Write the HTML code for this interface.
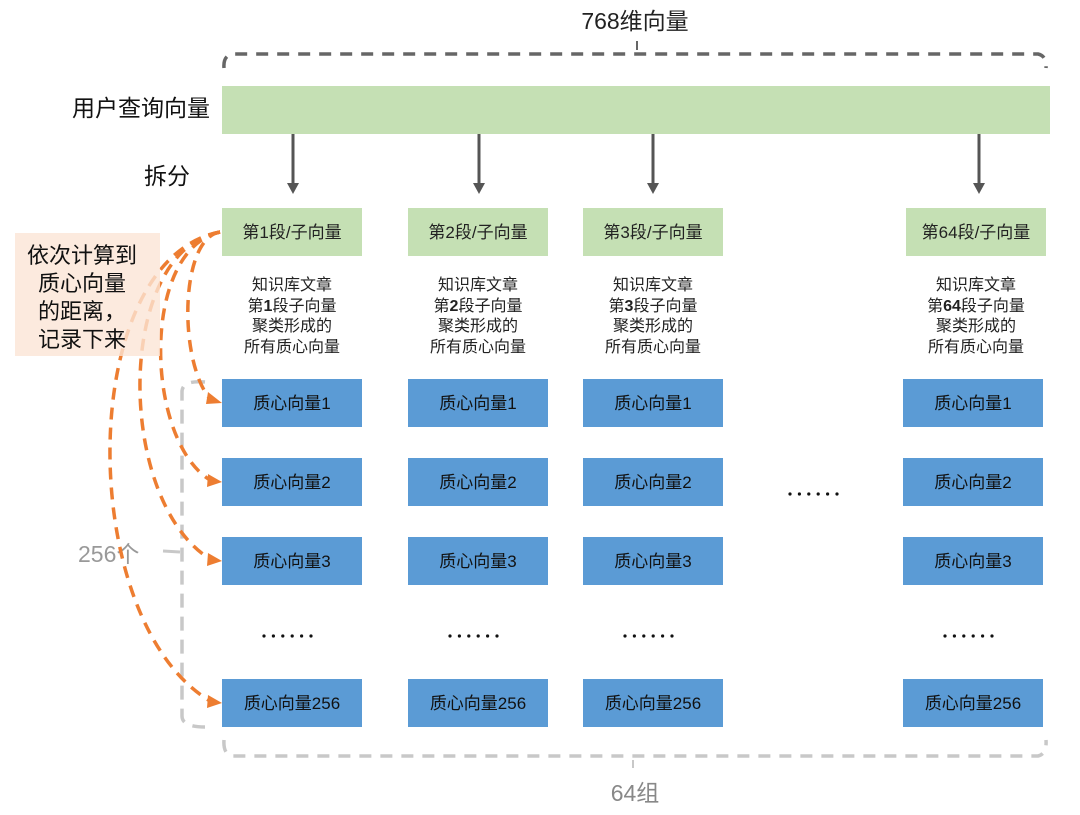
<!DOCTYPE html>
<html><head><meta charset="utf-8"><style>
html,body{margin:0;padding:0;background:#fff;}
svg{display:block;font-family:"Liberation Sans","Noto Sans CJK SC",sans-serif;}
</style></head><body>
<svg width="1080" height="815" viewBox="0 0 1080 815" xmlns="http://www.w3.org/2000/svg">
<defs>
<g id="dots"><circle cx="0" cy="0" r="1.6"/><circle cx="9.4" cy="0" r="1.6"/><circle cx="18.8" cy="0" r="1.6"/><circle cx="28.2" cy="0" r="1.6"/><circle cx="37.6" cy="0" r="1.6"/><circle cx="47" cy="0" r="1.6"/></g>
</defs>
<!-- top title & brace -->
<text x="635" y="29" font-size="23" text-anchor="middle" fill="#222">768维向量</text>
<path d="M224,68 Q223,56 232,54 L1038,54 Q1047,56 1046,68" fill="none" stroke="#666" stroke-width="3.5" stroke-dasharray="12,9"/>
<line x1="637" y1="41" x2="637" y2="50" stroke="#666" stroke-width="2"/>
<!-- user query -->
<text x="210" y="116" font-size="23" text-anchor="end" fill="#111">用户查询向量</text>
<rect x="222" y="86" width="828" height="48" fill="#c5e0b4"/>
<text x="190" y="184" font-size="23" text-anchor="end" fill="#111">拆分</text>
<!-- arrows -->
<g stroke="#555" stroke-width="3" fill="#555">
<line x1="293" y1="134" x2="293" y2="184"/><polygon points="287,183 299,183 293,194" stroke="none"/>
<line x1="479" y1="134" x2="479" y2="184"/><polygon points="473,183 485,183 479,194" stroke="none"/>
<line x1="653" y1="134" x2="653" y2="184"/><polygon points="647,183 659,183 653,194" stroke="none"/>
<line x1="979" y1="134" x2="979" y2="184"/><polygon points="973,183 985,183 979,194" stroke="none"/>
</g>
<!-- segment boxes -->
<g font-size="17" text-anchor="middle" fill="#222">
<rect x="222" y="208" width="140" height="48" fill="#c5e0b4"/><text x="292" y="238">第1段/子向量</text>
<rect x="408" y="208" width="140" height="48" fill="#c5e0b4"/><text x="478" y="238">第2段/子向量</text>
<rect x="583" y="208" width="140" height="48" fill="#c5e0b4"/><text x="653" y="238">第3段/子向量</text>
<rect x="906" y="208" width="140" height="48" fill="#c5e0b4"/><text x="976" y="238">第64段/子向量</text>
</g>
<!-- descriptions -->
<g font-size="16" text-anchor="middle" fill="#222">
<text x="292" y="290">知识库文章</text><text x="292" y="311">第<tspan font-weight="bold">1</tspan>段子向量</text><text x="292" y="331">聚类形成的</text><text x="292" y="352">所有质心向量</text>
<text x="478" y="290">知识库文章</text><text x="478" y="311">第<tspan font-weight="bold">2</tspan>段子向量</text><text x="478" y="331">聚类形成的</text><text x="478" y="352">所有质心向量</text>
<text x="653" y="290">知识库文章</text><text x="653" y="311">第<tspan font-weight="bold">3</tspan>段子向量</text><text x="653" y="331">聚类形成的</text><text x="653" y="352">所有质心向量</text>
<text x="976" y="290">知识库文章</text><text x="976" y="311">第<tspan font-weight="bold">64</tspan>段子向量</text><text x="976" y="331">聚类形成的</text><text x="976" y="352">所有质心向量</text>
</g>
<!-- blue boxes -->
<g fill="#5b9bd5">
<rect x="222" y="379" width="140" height="48"/><rect x="408" y="379" width="140" height="48"/><rect x="583" y="379" width="140" height="48"/><rect x="903" y="379" width="140" height="48"/>
<rect x="222" y="458" width="140" height="48"/><rect x="408" y="458" width="140" height="48"/><rect x="583" y="458" width="140" height="48"/><rect x="903" y="458" width="140" height="48"/>
<rect x="222" y="537" width="140" height="48"/><rect x="408" y="537" width="140" height="48"/><rect x="583" y="537" width="140" height="48"/><rect x="903" y="537" width="140" height="48"/>
<rect x="222" y="679" width="140" height="48"/><rect x="408" y="679" width="140" height="48"/><rect x="583" y="679" width="140" height="48"/><rect x="903" y="679" width="140" height="48"/>
</g>
<g font-size="17" text-anchor="middle" fill="#111">
<text x="292" y="409">质心向量1</text><text x="478" y="409">质心向量1</text><text x="653" y="409">质心向量1</text><text x="973" y="409">质心向量1</text>
<text x="292" y="488">质心向量2</text><text x="478" y="488">质心向量2</text><text x="653" y="488">质心向量2</text><text x="973" y="488">质心向量2</text>
<text x="292" y="567">质心向量3</text><text x="478" y="567">质心向量3</text><text x="653" y="567">质心向量3</text><text x="973" y="567">质心向量3</text>
<text x="292" y="709">质心向量256</text><text x="478" y="709">质心向量256</text><text x="653" y="709">质心向量256</text><text x="973" y="709">质心向量256</text>
</g>
<g fill="#111">
<use href="#dots" x="264" y="636"/>
<use href="#dots" x="450" y="636"/>
<use href="#dots" x="625" y="636"/>
<use href="#dots" x="945" y="636"/>
<use href="#dots" x="790" y="494"/>
</g>
<!-- left gray bracket -->
<path d="M205,382 Q182,380 182,392 L182,716 Q182,727 205,727" fill="none" stroke="#c8c8c8" stroke-width="3.5" stroke-dasharray="14,9"/>
<line x1="163" y1="551" x2="180" y2="552" stroke="#c8c8c8" stroke-width="3"/>
<text x="78" y="562" font-size="23" fill="#999">256个</text>
<!-- bottom brace -->
<path d="M224,740 Q223,754 232,756 L1038,756 Q1047,754 1046,740" fill="none" stroke="#c8c8c8" stroke-width="3.5" stroke-dasharray="12,9"/>
<line x1="633" y1="760" x2="633" y2="768" stroke="#c8c8c8" stroke-width="2"/>
<text x="635" y="801" font-size="23" text-anchor="middle" fill="#888">64组</text>
<!-- orange curves -->
<g fill="none" stroke="#ed7d31" stroke-width="3.5" stroke-dasharray="12,8">
<path d="M220,232 C180,238 178,360 210,399"/>
<path d="M220,232 C140,250 145,440 210,480"/>
<path d="M220,232 C115,250 115,500 210,559"/>
<path d="M220,232 C75,260 75,620 210,701"/>
</g>
<g fill="#ed7d31">
<polygon points="222,403 208,392 206,404"/>
<polygon points="222,482 208,474 207,487"/>
<polygon points="222,561 208,553 207,566"/>
<polygon points="222,703 208,695 207,708"/>
</g>
<!-- label box -->
<rect x="15" y="233" width="145" height="123" fill="#fbe5d6" fill-opacity="0.8"/>
<g font-size="22" fill="#111">
<text x="27" y="263">依次计算到</text>
<text x="38" y="291">质心向量</text>
<text x="38" y="319">的距离，</text>
<text x="38" y="347">记录下来</text>
</g>
</svg>
</body></html>
